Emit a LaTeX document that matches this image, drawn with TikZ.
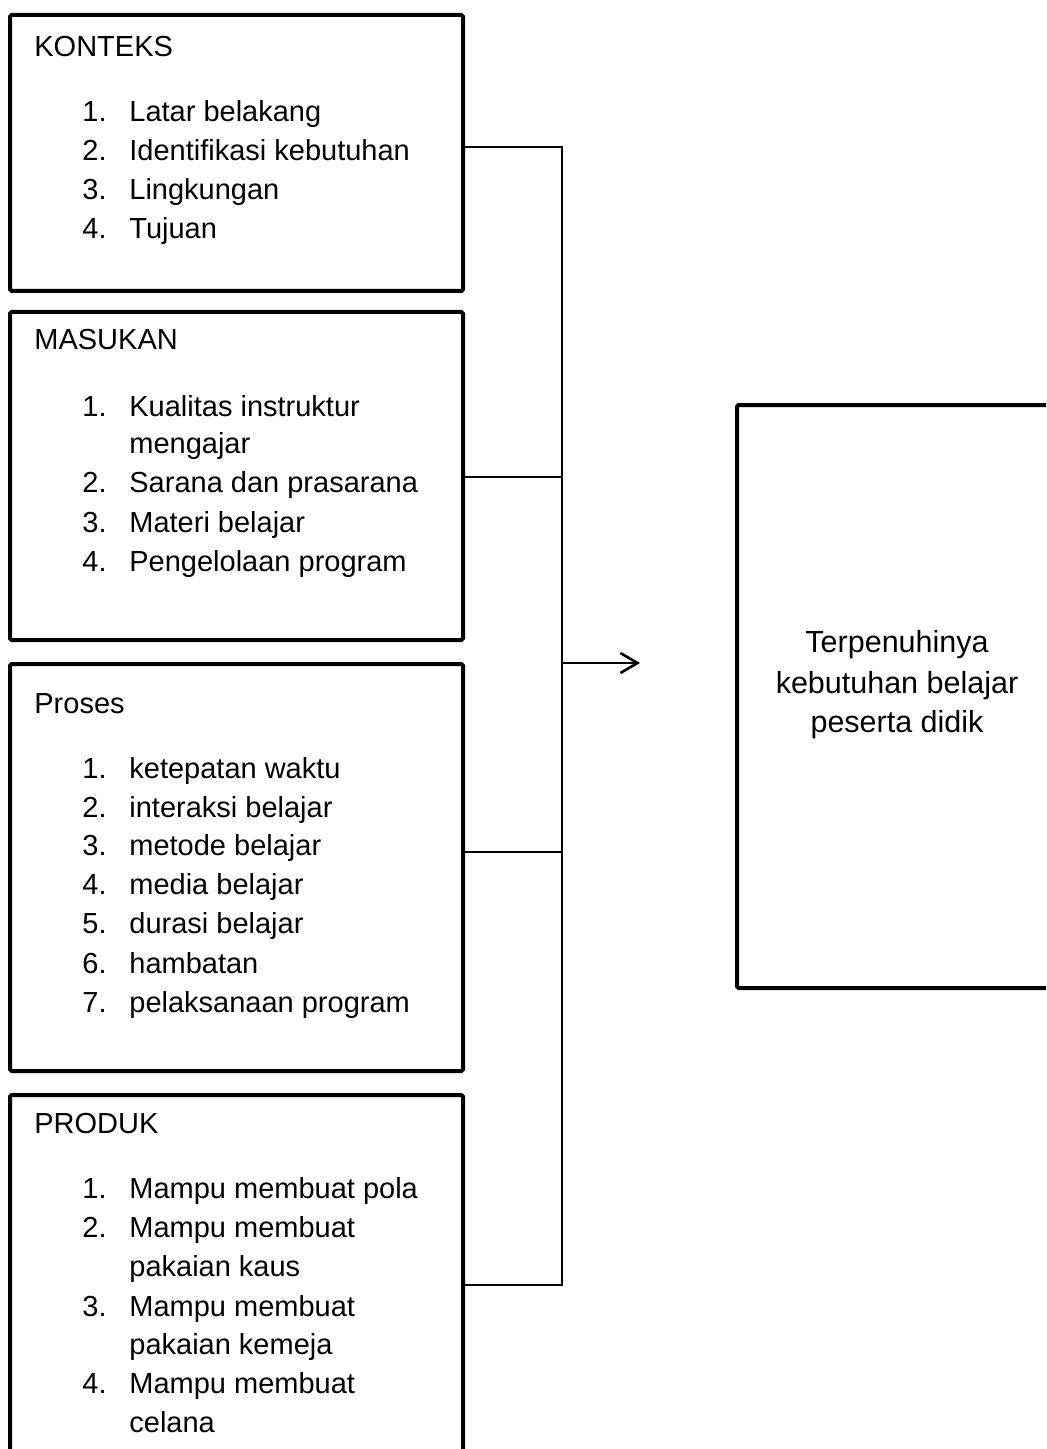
\documentclass[tikz,border=0pt]{standalone}
\usepackage{fontspec}
\setmainfont{Liberation Sans}
\usetikzlibrary{arrows.meta}
\begin{document}
\begin{tikzpicture}[x=0.5pt,y=-0.5pt,
  box/.style={draw, line width=2pt, rounded corners=0.8pt, anchor=north west, inner sep=0pt, outer sep=0pt},
  conn/.style={line width=1pt},
  lbl/.style={anchor=base west, inner sep=0pt, font=\fontsize{14.5pt}{17pt}\selectfont},
  outlbl/.style={anchor=base, inner sep=0pt, font=\fontsize{15.25pt}{18pt}\selectfont},
]
\clip (0,0) rectangle (1046,1449);
\fill[white] (0,0) rectangle (1046,1449);

% boxes
\node[box, minimum width=226.5pt, minimum height=138pt] (kon) at (10,15) {};
\node[box, minimum width=226.5pt, minimum height=164pt] (mas) at (10,312) {};
\node[box, minimum width=226.5pt, minimum height=203.5pt] (pro) at (10,664) {};
\node[box, minimum width=226.5pt, minimum height=192.5pt] (prd) at (10,1095) {};
\node[box, minimum width=181.5pt, minimum height=291.5pt] (out) at (737,405) {};

% KONTEKS
\node[lbl] (konh) at (34,57) {KONTEKS};
\foreach \n/\t/\y in {1/Latar belakang/122, 2/Identifikasi kebutuhan/161, 3/Lingkungan/200, 4/Tujuan/239}{
  \node[lbl] (kn\n) at (82,\y) {\n.};
  \node[lbl] (kt\n) at (129,\y) {\t};
}

% MASUKAN
\node[lbl] (mash) at (34,350) {MASUKAN};
\foreach \n/\t/\y in {1/Kualitas instruktur/416, 2/Sarana dan prasarana/492, 3/Materi belajar/532, 4/Pengelolaan program/571}{
  \node[lbl] (mn\n) at (82,\y) {\n.};
  \node[lbl] (mt\n) at (129,\y) {\t};
}
\node[lbl] (mt1b) at (129,453) {mengajar};

% Proses
\node[lbl] (proh) at (34,713) {Proses};
\foreach \n/\t/\y in {1/ketepatan waktu/778, 2/interaksi belajar/817, 3/metode belajar/855, 4/media belajar/894, 5/durasi belajar/933, 6/hambatan/973, 7/pelaksanaan program/1012}{
  \node[lbl] (pn\n) at (82,\y) {\n.};
  \node[lbl] (pt\n) at (129,\y) {\t};
}

% PRODUK
\node[lbl] (prdh) at (34,1133) {PRODUK};
\foreach \n/\t/\y in {1/Mampu membuat pola/1198, 2/Mampu membuat/1237, 3/Mampu membuat/1316, 4/Mampu membuat/1393}{
  \node[lbl] (dn\n) at (82,\y) {\n.};
  \node[lbl] (dt\n) at (129,\y) {\t};
}
\node[lbl] (dt2b) at (129,1276) {pakaian kaus};
\node[lbl] (dt3b) at (129,1354) {pakaian kemeja};
\node[lbl] (dt4b) at (129,1432) {celana};

% output text
\node[outlbl] (o1) at (897,652) {Terpenuhinya};
\node[outlbl] (o2) at (897,693) {kebutuhan belajar};
\node[outlbl] (o3) at (897,732) {peserta didik};

% connectors
\coordinate (j1) at (562,147);
\coordinate (j2) at (562,477);
\coordinate (jm) at (562,663);
\coordinate (j3) at (562,852);
\coordinate (j4) at (562,1285);
\coordinate (tip) at (640,663);

\draw[conn] (kon.east |- j1) -- (j1) -- (j4) -- (prd.east |- j4);
\draw[conn] (mas.east |- j2) -- (j2);
\draw[conn] (pro.east |- j3) -- (j3);
\draw[conn, -{Straight Barb[length=8.5pt, width=10pt, line width=1.3pt]}] (jm) -- (tip);
\end{tikzpicture}
\end{document}
